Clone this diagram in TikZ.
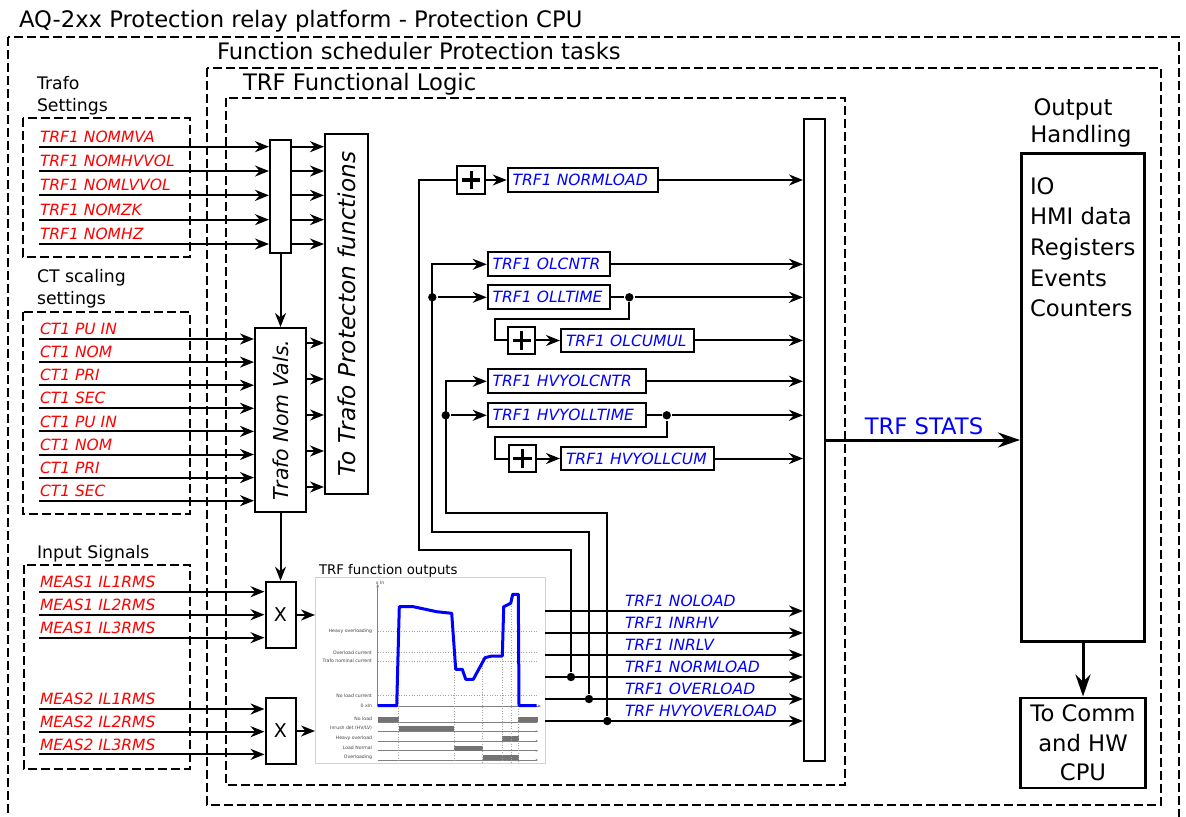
\documentclass[tikz,border=0pt]{standalone}
\usepackage{fontspec}
\setmainfont{DejaVu Sans}[ItalicFont={DejaVu Sans Oblique}]
\usetikzlibrary{arrows.meta,positioning}

\begin{document}
\begin{tikzpicture}[
    x=0.5pt, y=0.5pt,
    line width=1pt,
    every node/.style={inner sep=0pt},
    big/.style={font=\fontsize{11.35}{15.3}\selectfont},
    section/.style={anchor=base west,font=\fontsize{8.65}{10}\selectfont},
    group/.style={draw,dash pattern=on 4.5pt off 2pt},
    block/.style={rectangle,draw,fill=white},
    insig/.style={anchor=base west,text=red,font=\fontsize{7.75}{9}\selectfont\itshape},
    outsig/.style={anchor=base west,text=blue,font=\fontsize{7.75}{9}\selectfont\itshape},
    statbox/.style={rectangle,draw,fill=white,anchor=west,inner xsep=2.5pt,minimum height=11.9pt,text=blue,font=\fontsize{7.75}{9}\selectfont\itshape},
    plus/.style={rectangle,draw,fill=white,minimum size=13.75pt,
        path picture={\draw[line width=1.6pt] ([xshift=-4.6pt]path picture bounding box.center) -- ([xshift=4.6pt]path picture bounding box.center)
            ([yshift=-4.6pt]path picture bounding box.center) -- ([yshift=4.6pt]path picture bounding box.center);}},
    dot/.style={circle,fill,minimum size=4.2pt},
    arrow/.style={-{Stealth[length=7pt,width=5.5pt]}},
    bigarrow/.style={line width=1.5pt,-{Stealth[length=11pt,width=7.5pt]}},
    chartlbl/.style={anchor=east,text=black!75,font=\fontsize{2.3}{2.6}\selectfont},
    gridline/.style={gray!70,line width=0.3pt,densely dotted},
    chartaxis/.style={gray,line width=0.3pt}
]
\useasboundingbox (0,0) rectangle (1186,-817);

% Grupos
\draw[group] (8,-37) rectangle (1179,-830);
\draw[group] (207,-68) rectangle (1161,-805);
\draw[group] (226,-98) rectangle (845,-785);
\draw[group] (23,-118) rectangle (190,-257);
\draw[group] (23,-312) rectangle (190,-514);
\draw[group] (24,-565) rectangle (190,-769);

% Titulos
\node[big,anchor=base west] (cpulbl) at (18,-28) {AQ-2xx Protection relay platform - Protection CPU};
\node[big,anchor=base west] (schedlbl) at (216,-60) {Function scheduler Protection tasks};
\node[big,anchor=base west] (logiclbl) at (242,-91) {TRF Functional Logic};
\node[section] (trafolbl) at (36,-90) {Trafo};
\node[section] (trafolbl2) at (36,-111.5) {Settings};
\node[section] (ctlbl) at (36,-283) {CT scaling};
\node[section] (ctlbl2) at (36,-305) {settings};
\node[section] (measlbl) at (36,-558) {Input Signals};

% Bloques de entrada
\node[block,minimum width=10.5pt,minimum height=56.5pt] (mux) at (280.5,-196.5) {};
\node[block,minimum width=21.5pt,minimum height=180pt] (totrafo) at (346.5,-314) {};
\node[rotate=90,font=\fontsize{11.6}{14}\selectfont\itshape] (totrafotxt) at (totrafo) {To Trafo Protecton functions};
\node[block,minimum width=25.5pt,minimum height=92pt] (nomvals) at (280.5,-420) {};
\node[rotate=90,font=\fontsize{10.25}{12}\selectfont\itshape] (nomvalstxt) at (nomvals) {Trafo Nom Vals.};
\node[block,minimum width=15pt,minimum height=33.3pt,font=\fontsize{9.5}{11}\selectfont] (mul1) at (280.5,-615) {X};
\node[block,minimum width=15pt,minimum height=33pt,font=\fontsize{9.5}{11}\selectfont] (mul2) at (280.5,-731) {X};

% Grafica de salidas
\node[rectangle,draw=gray!35,fill=white,line width=0.6pt,minimum width=115pt,minimum height=93pt,anchor=north west] (chart) at (315,-577) {};
\node[anchor=base west,font=\fontsize{6.65}{8}\selectfont] (charttitle) at (318,-574) {TRF function outputs};
\draw[chartaxis,-{Stealth[length=1.6pt,width=1.3pt]}] (377.7,-706) -- (377.7,-584);
\draw[chartaxis,-{Stealth[length=1.6pt,width=1.3pt]}] (377.7,-706) -- (541,-706);
\node[chartlbl,anchor=center] (xinlbl) at (380,-583) {x In};
\foreach \y/\t [count=\i] in {631/Heavy overloading,652.7/Overload current,661/Trafo nominal current,695.7/No load current} {
    \draw[gridline] (377.7,-\y) -- (538,-\y);
    \node[chartlbl] (lvl\i) at (373,-\y) {\t};
}
\node[chartlbl] (lvl0) at (373,-705.7) {0 xIn};
\foreach \y/\t [count=\i] in {722/No load,731.3/{Inrush det (HV/LV)},741/Heavy overload,750.7/Load Normal,760/Overloading} {
    \draw[chartaxis,-{Stealth[length=1.2pt,width=1pt]}] (377.7,-\y) -- (538,-\y);
    \node[chartlbl] (row\i) at (373,{-\y+3}) {\t};
}
\foreach \a/\b/\y in {377.7/398.7/722,518.3/537.7/722,398.7/454.3/731.3,502.3/518.7/741,454.3/482.7/750.7,482.7/518.7/760}
    \fill[black!55] (\a,-\y) rectangle (\b,{-\y+5});
\foreach \x/\y in {398.7/606.7,454.3/669.3,482.7/657.7,502.3/606.7,511.3/603.3,518.7/594.3}
    \draw[gridline] (\x,-\y) -- (\x,-762);
\draw[blue,line width=1.5pt,line join=round] (377.7,-705.7) -- (396.7,-705.7) -- (399.3,-606.7) -- (413.3,-606.7)
    -- (436.7,-611.7) -- (451.7,-613.3) -- (455.7,-669.3) -- (462.3,-669.3) -- (465.7,-679.3) -- (473.3,-679.3)
    -- (485,-657.7) -- (491.7,-656) -- (502.3,-656) -- (503.7,-606.7) -- (510.7,-603.3) -- (512.7,-594.3)
    -- (518.3,-594.3) -- (519,-705.7) -- (536.7,-705.7);

% Senales de entrada
\foreach \sig [count=\i] in {TRF1 NOMMVA,TRF1 NOMHVVOL,TRF1 NOMLVVOL,TRF1 NOMZK,TRF1 NOMHZ} {
    \coordinate (ts\i) at (39,{-122.37-24.33*\i});
    \node[insig] (tssig\i) at ([yshift=2.2pt]ts\i) {\sig};
    \draw[arrow] (ts\i) -- (ts\i -| mux.west);
    \draw[arrow] (ts\i -| mux.east) -- (ts\i -| totrafo.west);
}
\foreach \sig [count=\i] in {CT1 PU IN,CT1 NOM,CT1 PRI,CT1 SEC,CT1 PU IN,CT1 NOM,CT1 PRI,CT1 SEC} {
    \coordinate (ct\i) at (39,{-315.9-23.1*\i});
    \node[insig] (ctsig\i) at ([yshift=2.2pt]ct\i) {\sig};
    \draw[arrow] (ct\i) -- (ct\i -| nomvals.west);
}
\foreach \i in {1,...,5} {
    \coordinate (nv\i) at (0,{-307-36*\i});
    \draw[arrow] (nv\i -| nomvals.east) -- (nv\i -| totrafo.west);
}
\foreach \sig [count=\i] in {MEAS1 IL1RMS,MEAS1 IL2RMS,MEAS1 IL3RMS} {
    \coordinate (ma\i) at (39,{-568.7-23*\i});
    \node[insig] (masig\i) at ([yshift=2.2pt]ma\i) {\sig};
    \draw[arrow] (ma\i) -- (ma\i -| mul1.west);
}
\foreach \sig [count=\i] in {MEAS2 IL1RMS,MEAS2 IL2RMS,MEAS2 IL3RMS} {
    \coordinate (mb\i) at (39,{-686.3-22.7*\i});
    \node[insig] (mbsig\i) at ([yshift=2.2pt]mb\i) {\sig};
    \draw[arrow] (mb\i) -- (mb\i -| mul2.west);
}
\draw[arrow] (mux) -- (nomvals);
\draw[arrow] (nomvals) -- (mul1);
\draw[arrow] (mul1) -- (mul1 -| chart.west);
\draw[arrow] (mul2) -- (mul2 -| chart.west);

% Barra colectora y salidas de la grafica
\node[block,minimum width=10.5pt,minimum height=321pt] (bar) at (814.5,-440) {};
\foreach \sig [count=\i] in {TRF1 NOLOAD,TRF1 INRHV,TRF1 INRLV,TRF1 NORMLOAD,TRF1 OVERLOAD,TRF HVYOVERLOAD} {
    \coordinate (co\i) at (545,{-589-22*\i});
    \node[outsig] (cosig\i) at ([xshift=39.5pt,yshift=2.2pt]co\i) {\sig};
    \draw[arrow] (co\i) -- (co\i -| bar.west);
}
\node[dot] (jnl) at (571,-677) {};
\node[dot] (jol) at (589,-699) {};
\node[dot] (jhv) at (607.3,-721) {};

% Contadores
\node[plus] (plusnl) at (471.2,-180) {};
\node[statbox,text width=70.3pt] (normload) at (506.7,-180) {TRF1 NORMLOAD};
\node[statbox,text width=56pt] (olcntr) at (486.7,-264.3) {TRF1 OLCNTR};
\node[statbox,text width=56pt] (olltime) at (486.7,-297.3) {TRF1 OLLTIME};
\node[plus] (plusol) at (521.7,-340.5) {};
\node[statbox,text width=61.7pt] (olcumul) at (560,-340.5) {TRF1 OLCUMUL};
\node[statbox,text width=74.3pt] (hvyolcntr) at (486.7,-381.3) {TRF1 HVYOLCNTR};
\node[statbox,text width=74.3pt] (hvyolltime) at (486.7,-415.3) {TRF1 HVYOLLTIME};
\node[plus] (plushv) at (522.3,-458.5) {};
\node[statbox,text width=71.7pt] (hvyollcum) at (560,-458.5) {TRF1 HVYOLLCUM};

\coordinate (bendnl) at (419,-550);
\coordinate (bendol) at (432.3,-531.7);
\coordinate (bendhv) at (445.7,-512.7);
\coordinate (loopol) at (495,-319.3);
\coordinate (loophv) at (495,-437.3);

\draw (jnl) |- (bendnl) |- (plusnl.west);
\draw[arrow] (plusnl) -- (normload);
\draw[arrow] (normload) -- (normload -| bar.west);

\draw[arrow] (jol) |- (bendol) |- (olcntr.west);
\node[dot] (splitol) at (bendol |- olltime.west) {};
\draw[arrow] (splitol) -- (olltime);
\draw[arrow] (olcntr) -- (olcntr -| bar.west);
\node[dot] (tapol) at (629.3,-297.3) {};
\draw (olltime) -- (tapol);
\draw[arrow] (tapol) -- (tapol -| bar.west);
\draw (tapol) |- (loopol) |- (plusol.west);
\draw[arrow] (plusol) -- (olcumul);
\draw[arrow] (olcumul) -- (olcumul -| bar.west);

\draw[arrow] (jhv) |- (bendhv) |- (hvyolcntr.west);
\node[dot] (splithv) at (bendhv |- hvyolltime.west) {};
\draw[arrow] (splithv) -- (hvyolltime);
\draw[arrow] (hvyolcntr) -- (hvyolcntr -| bar.west);
\node[dot] (taphv) at (666.7,-415.3) {};
\draw (hvyolltime) -- (taphv);
\draw[arrow] (taphv) -- (taphv -| bar.west);
\draw (taphv) |- (loophv) |- (plushv.west);
\draw[arrow] (plushv) -- (hvyollcum);
\draw[arrow] (hvyollcum) -- (hvyollcum -| bar.west);

% Manejo de salidas
\node[block,line width=1.5pt,minimum width=61.5pt,minimum height=243.5pt] (outbox) at (1083,-397.5) {};
\node[big,anchor=north west,align=left] (outlist) at (1029,-176.5) {IO\\HMI data\\Registers\\Events\\Counters};
\node[big,anchor=base] (outlbl) at (1073,-115.4) {Output};
\node[big,anchor=base] (outlbl2) at (1081,-143) {Handling};
\draw[bigarrow] (bar.east) -- (bar.east -| outbox.west);
\node[big,anchor=base,text=blue] (statlbl) at (924,-434) {TRF STATS};
\node[block,line width=1.25pt,minimum width=62.5pt,minimum height=45pt,below=27pt of outbox,align=center,font=\fontsize{11.35}{14.65}\selectfont] (tocomm) {To Comm\\and HW\\CPU};
\draw[bigarrow] (outbox) -- (tocomm);

\end{tikzpicture}
\end{document}
